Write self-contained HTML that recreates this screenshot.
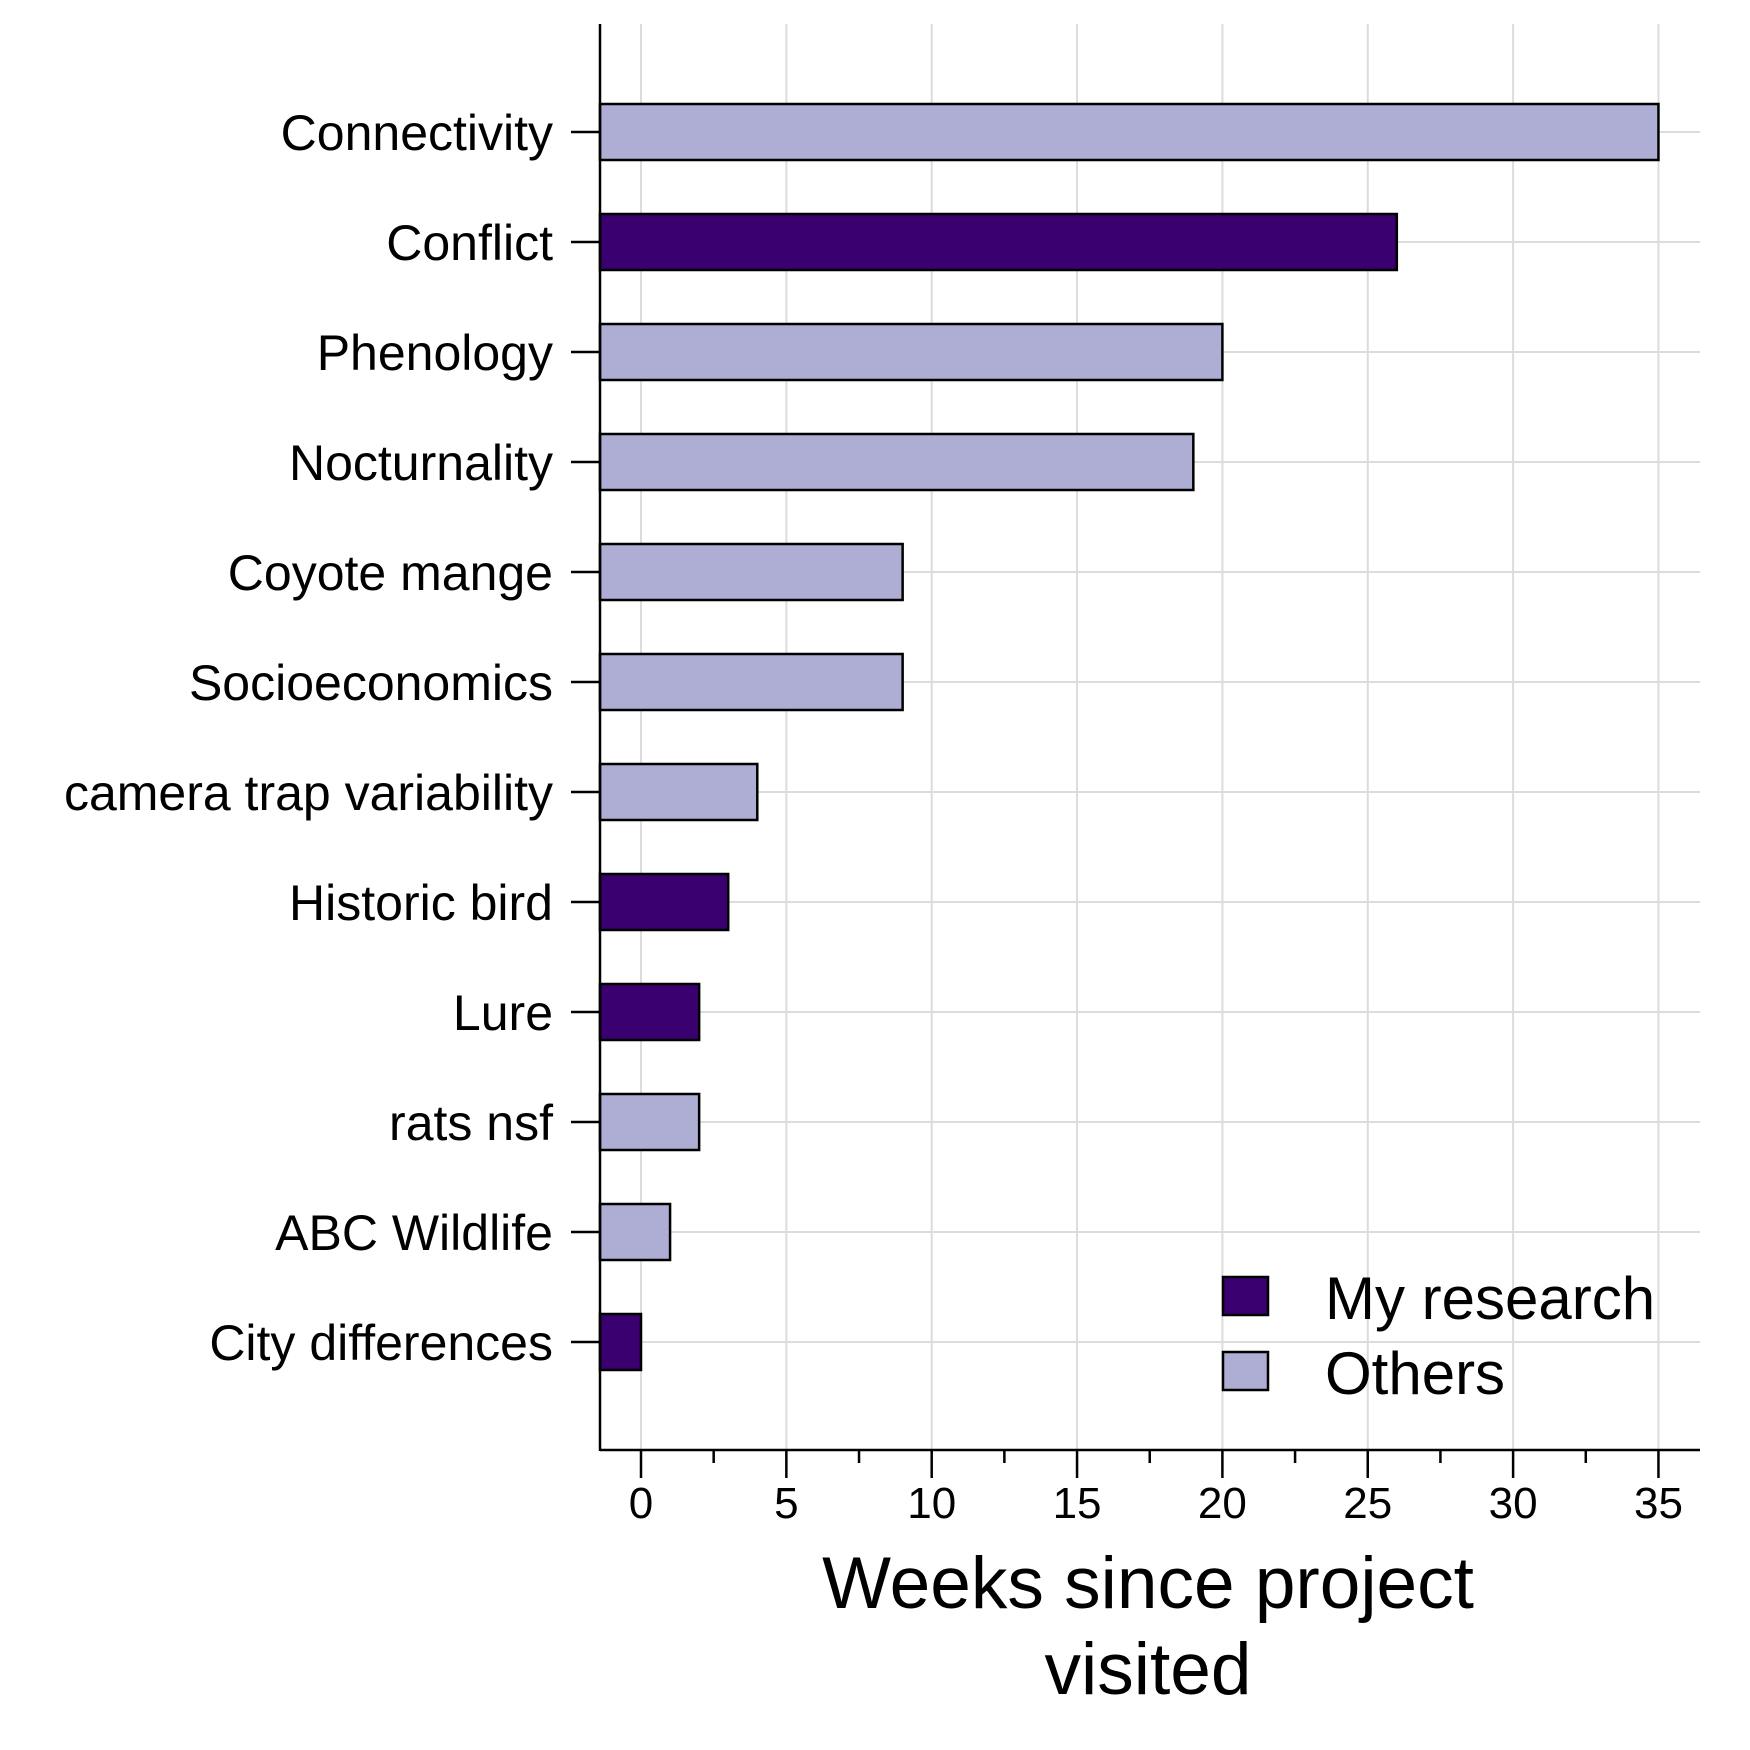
<!DOCTYPE html>
<html><head><meta charset="utf-8"><style>
html,body{margin:0;padding:0;background:#fff;}
svg{display:block;font-family:"Liberation Sans",Arial,sans-serif;}
</style></head><body>
<svg id="chart" width="1750" height="1750" viewBox="0 0 1750 1750"></svg>
<script>
const categories=["Connectivity","Conflict","Phenology","Nocturnality","Coyote mange","Socioeconomics","camera trap variability","Historic bird","Lure","rats nsf","ABC Wildlife","City differences"];
const weeks=[35,26,20,19,9,9,4,3,2,2,1,0];
const groups=["Others","My research","Others","Others","Others","Others","Others","My research","My research","Others","Others","My research"];
const xTicks=[0,5,10,15,20,25,30,35];
const legendLabels=["My research","Others"];

const NS="http://www.w3.org/2000/svg";
const svg=document.getElementById('chart');
const colors={"My research":"#3a006f","Others":"#aeaed4"};
const x0px=641,perUnit=29.07,axisX=600,axisY=1450,axisRight=1700,axisTop=24;
const xs=v=>x0px+v*perUnit;
const ys=i=>132+i*110;
function mk(t,a,p){const e=document.createElementNS(NS,t);for(const k in a)e.setAttribute(k,a[k]);(p||svg).appendChild(e);return e;}

xTicks.forEach(t=>{
  const g=mk('line',{x1:xs(t),x2:xs(t),y1:axisTop,y2:axisY,stroke:'#dcdcdc','stroke-width':2});
  
  
});
categories.forEach((c,i)=>{
  const g=mk('line',{x1:axisX,x2:axisRight,y1:ys(i),y2:ys(i),stroke:'#dcdcdc','stroke-width':2});
  
  
});
categories.forEach((c,i)=>{
  const r=mk('rect',{x:axisX,y:ys(i)-28,width:xs(weeks[i])-axisX,height:56,fill:colors[groups[i]],stroke:'#000','stroke-width':2.5});
  
  
  const tk=mk('line',{x1:571,x2:axisX,y1:ys(i),y2:ys(i),stroke:'#000','stroke-width':2.5});
  
  
  const t=mk('text',{x:553,y:ys(i)+18,'text-anchor':'end','font-size':50,fill:'#000'});
  t.textContent=c;
  
  
});
const ya=mk('line',{x1:axisX,x2:axisX,y1:axisTop,y2:axisY+1,stroke:'#000','stroke-width':2.5});


const xa=mk('line',{x1:axisX,x2:axisRight,y1:axisY,y2:axisY,stroke:'#000','stroke-width':2.5});


xTicks.forEach(t=>{
  const l=mk('line',{x1:xs(t),x2:xs(t),y1:axisY,y2:axisY+28,stroke:'#000','stroke-width':2.5});
  
  
  if(t<35){
    const m=mk('line',{x1:xs(t+2.5),x2:xs(t+2.5),y1:axisY,y2:axisY+13,stroke:'#000','stroke-width':2.5});
    
    
  }
  const tx=mk('text',{x:xs(t),y:1518,'text-anchor':'middle','font-size':44,fill:'#000'});
  tx.textContent=t;
  
  
});
[["Weeks since project",1608],["visited",1694]].forEach(([s,y])=>{
  const t=mk('text',{x:1148,y:y,'text-anchor':'middle','font-size':73,fill:'#000'});
  t.textContent=s;
  
  
});
legendLabels.forEach((l,i)=>{
  const y=1277+i*75;
  const r=mk('rect',{x:1223,y:y,width:45,height:38,fill:colors[l],stroke:'#000','stroke-width':2.5});
  
  
  const t=mk('text',{x:1325,y:y+42,'font-size':60,fill:'#000'});
  t.textContent=l;
  
  
});
</script>
</body></html>
